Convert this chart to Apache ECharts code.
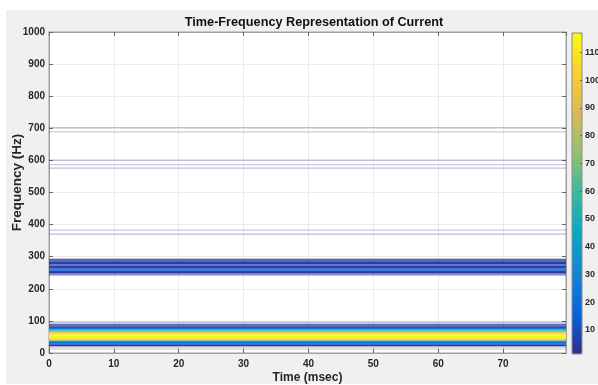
<!DOCTYPE html>
<html>
<head>
<meta charset="utf-8">
<script src="https://cdn.jsdelivr.net/npm/echarts@6/dist/echarts.min.js"></script>
<style>
html,body{margin:0;padding:0;background:#fff;}
#chart{width:598px;height:385px;}
</style>
</head>
<body>
<div id="chart"></div>
<script>
// ---- data ----
const titleText = 'Time-Frequency Representation of Current';
const xName = 'Time (msec)';
const yName = 'Frequency (Hz)';
const timeRange = [0, 79.7];          // msec
const freqRange = [0, 1000];          // Hz
const colorRange = [1.3, 117];        // colorbar limits
// frequency bins (Hz, bin centre) and their magnitude (constant over time)
const binFreq = [
  12, 16, 20, 24, 28, 32, 36, 40, 44, 48, 52, 56, 60, 64, 68, 72, 76, 80, 84, 88, 92, 96,
  242, 246, 250, 254, 258, 262, 266, 270, 274, 278, 282, 286, 290, 294,
  370, 383,
  576, 587, 601,
  689, 702
];
const binPower = [
  0.8, 0.5, 1.5, 4, 10, 22, 42, 70, 104, 114, 116, 116, 110, 98, 66, 42, 25, 14, 7, 3, 1.0, 1.2,
  1.2, 2.5, 6, 10, 12, 12, 10, 6, 3, 6, 9, 8, 4, 1.0,
  1.3, 1.0,
  1.2, 1.0, 1.2,
  1.0, 1.2
];
const BIN = 4; // Hz, bin height

const parula = ['#352a87','#0363e1','#1485d4','#06a7c6','#38b99e','#92bf73','#d9ba56','#fcce2e','#f9fb0e'];

const data = binFreq.map((f, i) => [f, binPower[i]]);

const chart = echarts.init(document.getElementById('chart'), null, {renderer: 'canvas'});
const G = {left: 49, top: 32, right: 32, bottom: 32};
const CB = {left: 572, top: 33, width: 10, height: 321};
const FONT = 'Liberation Sans, Arial, sans-serif';
const labelFont = {fontFamily: FONT, fontSize: 10, fontWeight: 'bold', color: '#262626'};
const tickStyle = {show: true, inside: true, length: 4, lineStyle: {color: '#666'}};
const lineStyle = {show: true, onZero: false, lineStyle: {color: '#a0a0a0'}};

const option = {
  backgroundColor: '#ffffff',
  animation: false,
  graphic: [
    {type: 'rect', z: -10, silent: true, shape: {x: 6, y: 10, width: 592, height: 374}, style: {fill: '#f0f0f0'}},
    {type: 'rect', z: 100, silent: true, shape: {x: CB.left, y: CB.top, width: CB.width, height: CB.height}, style: {fill: 'none', stroke: '#8c8c8c', lineWidth: 1}}
  ],
  title: {
    text: titleText,
    left: 309, top: 11, textAlign: 'center',
    textStyle: {fontFamily: FONT, fontSize: 12.7, fontWeight: 'bold', color: '#111'}
  },
  grid: [
    {left: G.left, top: G.top, right: G.right, bottom: G.bottom, show: true, backgroundColor: '#ffffff', borderColor: '#a0a0a0', borderWidth: 1, containLabel: false, outerBoundsMode: 'none'},
    {left: CB.left, top: CB.top, width: CB.width, height: CB.height, show: false, containLabel: false, outerBoundsMode: 'none'}
  ],
  xAxis: [
    {type: 'value', gridIndex: 0, position: 'bottom', min: timeRange[0], max: timeRange[1], interval: 10,
     name: xName, nameLocation: 'middle', nameGap: 19, nameMoveOverlap: false,
     nameTextStyle: {fontFamily: FONT, fontSize: 12, fontWeight: 'bold', color: '#262626'},
     axisLine: lineStyle, axisTick: tickStyle,
     axisLabel: Object.assign({margin: 6, showMaxLabel: false}, labelFont),
     splitLine: {show: true, lineStyle: {color: '#ebebeb'}}},
    {type: 'value', gridIndex: 0, position: 'top', min: timeRange[0], max: timeRange[1], interval: 10,
     axisLine: lineStyle, axisTick: tickStyle,
     axisLabel: {show: false}, splitLine: {show: false}},
    {type: 'value', gridIndex: 1, show: false, min: 0, max: 1}
  ],
  yAxis: [
    {type: 'value', gridIndex: 0, position: 'left', min: freqRange[0], max: freqRange[1], interval: 100,
     name: yName, nameLocation: 'middle', nameGap: 25, nameRotate: 90, nameMoveOverlap: false,
     nameTextStyle: {fontFamily: FONT, fontSize: 13.5, fontWeight: 'bold', color: '#262626', padding: [0, 0, 0, 20]},
     axisLine: lineStyle, axisTick: tickStyle,
     axisLabel: Object.assign({margin: 4, formatter: v => String(v)}, labelFont),
     splitLine: {show: true, lineStyle: {color: '#ebebeb'}}},
    {type: 'value', gridIndex: 0, position: 'right', min: freqRange[0], max: freqRange[1], interval: 100,
     axisLine: lineStyle, axisTick: tickStyle,
     axisLabel: {show: false}, splitLine: {show: false}},
    {type: 'value', gridIndex: 1, position: 'right', min: colorRange[0], max: colorRange[1], splitNumber: 11,
     axisLine: {show: false, onZero: false},
     axisTick: {show: true, inside: true, length: 2, lineStyle: {color: '#666'}},
     axisLabel: {margin: 3, showMinLabel: false, showMaxLabel: false, fontFamily: FONT, fontSize: 9, fontWeight: 'bold', color: '#262626'},
     splitLine: {show: false}, z: 120}
  ],
  visualMap: {
    type: 'continuous',
    min: colorRange[0], max: colorRange[1],
    dimension: 1, seriesIndex: 0,
    left: CB.left, top: CB.top, itemWidth: CB.width, itemHeight: CB.height,
    padding: 0, text: null, calculable: false, realtime: false, hoverLink: false,
    inRange: {color: parula},
    outOfRange: {color: '#352a87'}
  },
  series: [{
    type: 'custom',
    coordinateSystem: 'cartesian2d',
    xAxisIndex: 0, yAxisIndex: 0,
    encode: {y: 0},
    data: data,
    renderItem: function (params, api) {
      const f = api.value(0), v = api.value(1);
      const p0 = api.coord([timeRange[0], f + BIN / 2]);
      const p1 = api.coord([timeRange[1], f - BIN / 2]);
      const op = Math.min(1, Math.max(0.12, v / 4));
      return {
        type: 'rect',
        shape: {x: p0[0], y: p0[1], width: p1[0] - p0[0], height: p1[1] - p0[1]},
        style: {fill: api.visual('color'), opacity: op}
      };
    }
  }]
};
chart.setOption(option);
</script>
</body>
</html>
